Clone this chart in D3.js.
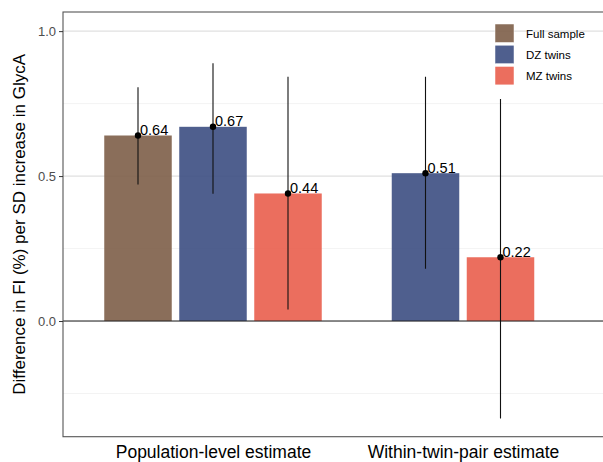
<!DOCTYPE html>
<html><head><meta charset="utf-8">
<script src="https://cdn.jsdelivr.net/npm/d3@7"></script>
<style>body{margin:0;background:#fff}svg{display:block;font-family:"Liberation Sans",Arial,sans-serif}</style>
</head><body><svg id="c" width="603" height="462"></svg>
<script>
const categories = ["Population-level estimate", "Within-twin-pair estimate"];
const groups = ["Full sample", "DZ twins", "MZ twins"];
const colors = ["#7D5E48", "#3C4E82", "#E95E4C"];
// rows: category, group, estimate, lower, upper
const rowCategory = [0, 0, 0, 1, 1];
const rowGroup    = [0, 1, 2, 1, 2];
const estimates   = [0.64, 0.67, 0.44, 0.51, 0.22];
const lower       = [0.471, 0.439, 0.040, 0.180, -0.336];
const upper       = [0.806, 0.889, 0.843, 0.843, 0.766];
const labels      = ["0.64", "0.67", "0.44", "0.51", "0.22"];
const yTicks = [0.0, 0.5, 1.0];
const yMinor = [-0.25, 0.25, 0.75];

const svg = d3.select("#c");
const pL = 63, pT = 12, pB = 436.7, pR = 613;
const y = d3.scaleLinear().domain([-0.399, 1.066]).range([pB, pT]);
const x = d3.scaleLinear().domain([0.4, 2.6]).range([pL, pR]);
const slot = 0.3, barW = 0.27;

const nPer = categories.map((c, i) => rowCategory.filter(v => v === i).length);
const idxIn = rowCategory.map((c, i) => rowCategory.slice(0, i).filter(v => v === c).length);
const centerX = i => {
  const n = nPer[rowCategory[i]];
  return (rowCategory[i] + 1) + (idxIn[i] - (n - 1) / 2) * slot;
};

const g = svg.append("g");
svg.append("defs").append("clipPath").attr("id", "pc").append("rect")
  .attr("x", pL).attr("y", pT).attr("width", pR - pL).attr("height", pB - pT);
const p = g.append("g").attr("clip-path", "url(#pc)");

yMinor.forEach(v => p.append("line").attr("x1", pL).attr("x2", pR)
  .attr("y1", y(v)).attr("y2", y(v)).attr("stroke", "#ebebeb").attr("stroke-width", 0.6));
yTicks.forEach(v => p.append("line").attr("x1", pL).attr("x2", pR)
  .attr("y1", y(v)).attr("y2", y(v)).attr("stroke", "#e0e0e0").attr("stroke-width", 1.1));

p.selectAll("rect.bar").data(estimates).enter().append("rect")
  .attr("x", (d, i) => x(centerX(i) - barW / 2))
  .attr("width", x(barW) - x(0))
  .attr("y", d => Math.min(y(d), y(0)))
  .attr("height", d => Math.abs(y(0) - y(d)))
  .attr("fill", (d, i) => colors[rowGroup[i]])
  .attr("fill-opacity", 0.9);

p.append("line").attr("x1", pL).attr("x2", pR).attr("y1", y(0)).attr("y2", y(0))
  .attr("stroke", "#222").attr("stroke-width", 1);

p.selectAll("line.err").data(estimates).enter().append("line")
  .attr("x1", (d, i) => x(centerX(i))).attr("x2", (d, i) => x(centerX(i)))
  .attr("y1", (d, i) => y(lower[i])).attr("y2", (d, i) => y(upper[i]))
  .attr("stroke", "#111").attr("stroke-width", 1.1);
p.selectAll("circle").data(estimates).enter().append("circle")
  .attr("cx", (d, i) => x(centerX(i))).attr("cy", d => y(d)).attr("r", 3.2).attr("fill", "#000");
p.selectAll("text.lab").data(estimates).enter().append("text")
  .attr("x", (d, i) => x(centerX(i)) + 2).attr("y", d => y(d) - 0.5)
  .attr("font-size", 14.5).attr("fill", "#000").text((d, i) => labels[i]);

g.append("rect").attr("x", pL).attr("y", pT).attr("width", pR - pL).attr("height", pB - pT)
  .attr("fill", "none").attr("stroke", "#555").attr("stroke-width", 1.1);

const ya = g.append("g").attr("transform", `translate(${pL},0)`)
  .call(d3.axisLeft(y).tickValues(yTicks).tickFormat(d3.format(".1f")).tickSize(4).tickPadding(3));
ya.select(".domain").remove();
ya.selectAll("line").attr("stroke", "#333");
ya.selectAll("text").attr("font-size", 13).attr("fill", "#4d4d4d").attr("font-family", "Liberation Sans, Arial, sans-serif");

const xa = g.append("g").attr("transform", `translate(0,${pB})`)
  .call(d3.axisBottom(x).tickValues([1, 2]).tickFormat(d => categories[d - 1]).tickSize(0).tickPadding(9));
xa.select(".domain").remove();
xa.selectAll("text").attr("font-size", 17.5).attr("fill", "#000").attr("font-family", "Liberation Sans, Arial, sans-serif");

g.append("text").attr("transform", `translate(25,${(pT + pB) / 2}) rotate(-90)`)
  .attr("text-anchor", "middle").attr("font-size", 17).attr("fill", "#000")
  .text("Difference in FI (%) per SD increase in GlycA");

const lg = g.append("g").attr("transform", "translate(495,24)");
groups.forEach((name, i) => {
  lg.append("rect").attr("x", 0).attr("y", i * 21.2).attr("width", 19).attr("height", 18.5)
    .attr("fill", colors[i]).attr("fill-opacity", 0.9).attr("stroke", "#fff").attr("stroke-width", 0.5);
  lg.append("text").attr("x", 31).attr("y", i * 21.2 + 9.5).attr("dy", "0.35em")
    .attr("font-size", 11.5).attr("fill", "#000").text(name);
});
</script></body></html>
